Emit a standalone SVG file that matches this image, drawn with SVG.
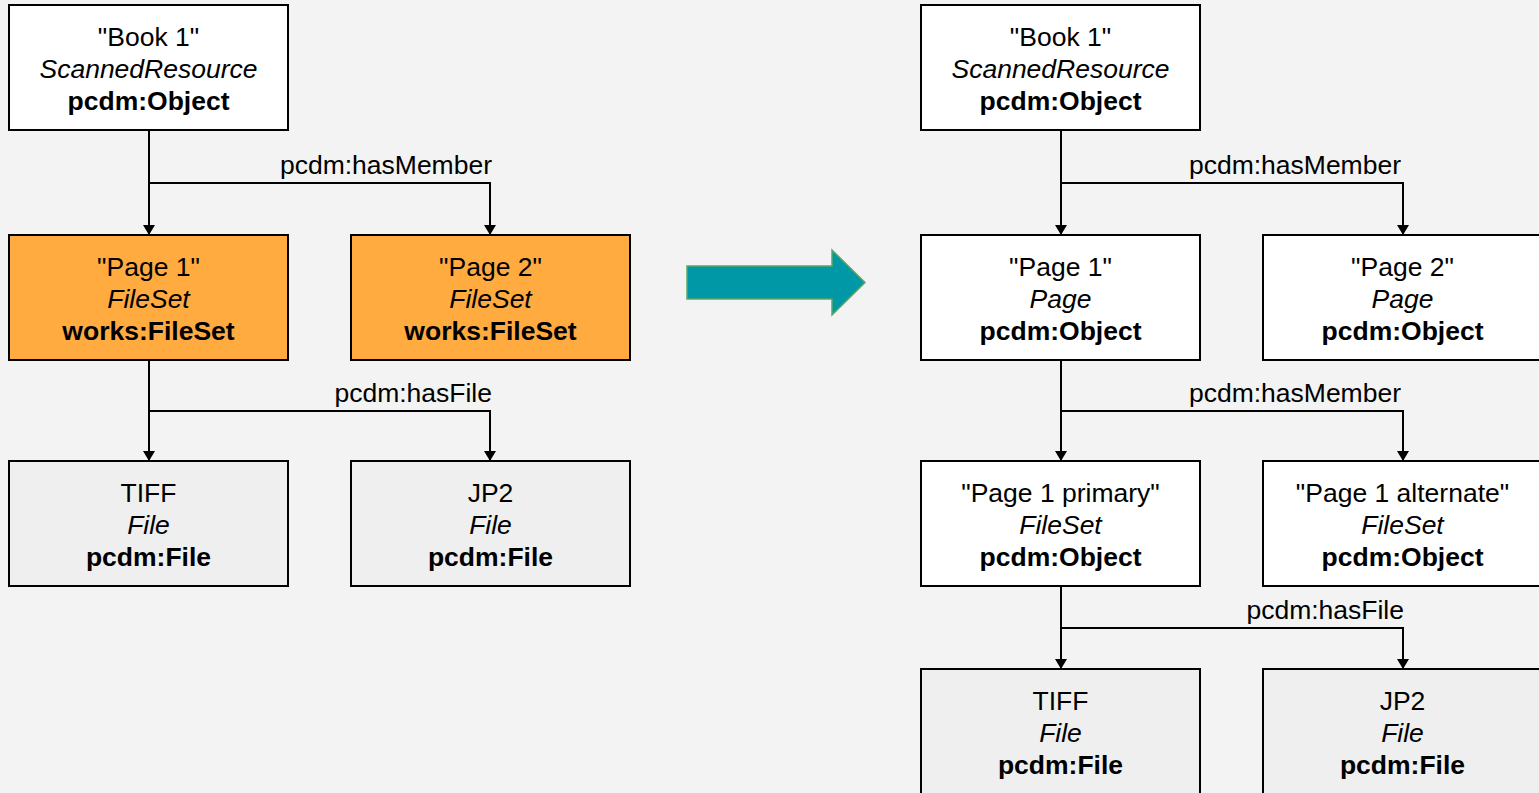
<svg xmlns="http://www.w3.org/2000/svg" width="1539" height="793" viewBox="0 0 1539 793">
<defs>
<marker id="ah" viewBox="0 0 10 12" refX="10" refY="6" markerWidth="10" markerHeight="12" markerUnits="userSpaceOnUse" orient="auto">
<path d="M0,0 L10,6 L0,12 Z" fill="#000"/>
</marker>
<style>
text{font-family:"Liberation Sans",Arial,sans-serif;font-size:26.5px;fill:#000;text-anchor:middle}
.i{font-style:italic}
.b{font-weight:bold}
.lbl{text-anchor:end}
.box{stroke:#000;stroke-width:2}
.w{fill:#fff}
.o{fill:#ffab40}
.f{fill:#efefef}
.c{fill:none;stroke:#000;stroke-width:2;marker-end:url(#ah)}
</style>
</defs>
<rect width="1539" height="793" fill="#f3f3f3"/>
<g id="connectors">
<path class="c" d="M149,130 V235"/>
<path class="c" d="M149,183 H490 V235"/>
<path class="c" d="M149,360 V461"/>
<path class="c" d="M149,411 H490 V461"/>
<path class="c" d="M1061,130 V235"/>
<path class="c" d="M1061,183 H1403 V235"/>
<path class="c" d="M1061,360 V461"/>
<path class="c" d="M1061,411 H1403 V461"/>
<path class="c" d="M1061,586 V669"/>
<path class="c" d="M1061,628 H1403 V669"/>
<text class="lbl" x="492" y="174">pcdm:hasMember</text>
<text class="lbl" x="492" y="402">pcdm:hasFile</text>
<text class="lbl" x="1401" y="174">pcdm:hasMember</text>
<text class="lbl" x="1401" y="402">pcdm:hasMember</text>
<text class="lbl" x="1404" y="619">pcdm:hasFile</text>
</g>
<g id="transform-arrow">
<path d="M687,266 H832 V250 L865,282.5 L832,315 V299 H687 Z" fill="#0097a7" stroke="#5aa86a" stroke-width="1.5"/>
</g>
<g id="l-book1">
<rect class="box w" x="9" y="5" width="279" height="125"/>
<text x="148.5" y="46">"Book 1"</text><text class="i" x="148.5" y="78">ScannedResource</text><text class="b" x="148.5" y="110">pcdm:Object</text>
</g>
<g id="l-page1">
<rect class="box o" x="9" y="235" width="279" height="125"/>
<text x="148.5" y="276">"Page 1"</text><text class="i" x="148.5" y="308">FileSet</text><text class="b" x="148.5" y="340">works:FileSet</text>
</g>
<g id="l-page2">
<rect class="box o" x="351" y="235" width="279" height="125"/>
<text x="490.5" y="276">"Page 2"</text><text class="i" x="490.5" y="308">FileSet</text><text class="b" x="490.5" y="340">works:FileSet</text>
</g>
<g id="l-tiff">
<rect class="box f" x="9" y="461" width="279" height="125"/>
<text x="148.5" y="502">TIFF</text><text class="i" x="148.5" y="534">File</text><text class="b" x="148.5" y="566">pcdm:File</text>
</g>
<g id="l-jp2">
<rect class="box f" x="351" y="461" width="279" height="125"/>
<text x="490.5" y="502">JP2</text><text class="i" x="490.5" y="534">File</text><text class="b" x="490.5" y="566">pcdm:File</text>
</g>
<g id="r-book1">
<rect class="box w" x="921" y="5" width="279" height="125"/>
<text x="1060.5" y="46">"Book 1"</text><text class="i" x="1060.5" y="78">ScannedResource</text><text class="b" x="1060.5" y="110">pcdm:Object</text>
</g>
<g id="r-page1">
<rect class="box w" x="921" y="235" width="279" height="125"/>
<text x="1060.5" y="276">"Page 1"</text><text class="i" x="1060.5" y="308">Page</text><text class="b" x="1060.5" y="340">pcdm:Object</text>
</g>
<g id="r-page2">
<rect class="box w" x="1263" y="235" width="279" height="125"/>
<text x="1402.5" y="276">"Page 2"</text><text class="i" x="1402.5" y="308">Page</text><text class="b" x="1402.5" y="340">pcdm:Object</text>
</g>
<g id="r-primary">
<rect class="box w" x="921" y="461" width="279" height="125"/>
<text x="1060.5" y="502">"Page 1 primary"</text><text class="i" x="1060.5" y="534">FileSet</text><text class="b" x="1060.5" y="566">pcdm:Object</text>
</g>
<g id="r-alternate">
<rect class="box w" x="1263" y="461" width="279" height="125"/>
<text x="1402.5" y="502">"Page 1 alternate"</text><text class="i" x="1402.5" y="534">FileSet</text><text class="b" x="1402.5" y="566">pcdm:Object</text>
</g>
<g id="r-tiff">
<rect class="box f" x="921" y="669" width="279" height="130"/>
<text x="1060.5" y="710">TIFF</text><text class="i" x="1060.5" y="742">File</text><text class="b" x="1060.5" y="774">pcdm:File</text>
</g>
<g id="r-jp2">
<rect class="box f" x="1263" y="669" width="279" height="130"/>
<text x="1402.5" y="710">JP2</text><text class="i" x="1402.5" y="742">File</text><text class="b" x="1402.5" y="774">pcdm:File</text>
</g>
</svg>
